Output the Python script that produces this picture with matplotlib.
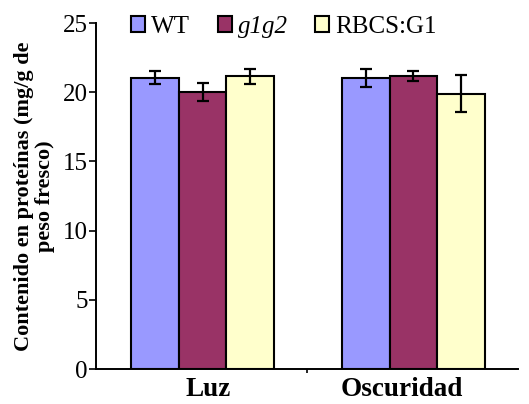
import matplotlib
matplotlib.use("Agg")
import matplotlib.pyplot as plt
import matplotlib.transforms as mtransforms
import numpy as np
from matplotlib.patches import Patch

plt.rcParams['font.family'] = ['Liberation Serif', 'DejaVu Serif']

conditions = ["Luz", "Oscuridad"]
genotypes = ["WT", "g1g2", "RBCS:G1"]
means = {
    "WT": [21.05, 21.05],
    "g1g2": [20.0, 21.15],
    "RBCS:G1": [21.15, 19.9],
}
errors = {
    "WT": [0.46, 0.64],
    "g1g2": [0.64, 0.35],
    "RBCS:G1": [0.52, 1.36],
}
colors = {"WT": "#9999FF", "g1g2": "#993366", "RBCS:G1": "#FFFFCC"}

fig = plt.figure(figsize=(5.29, 4.04), dpi=100)
ax = fig.add_axes([0.1815, 0.0866, 0.7975, 0.8564])

x = np.arange(len(conditions))
width = 0.227
for i, g in enumerate(genotypes):
    pos = x + (i - 1) * width + 0.005
    ax.bar(pos, means[g], width, color=colors[g], edgecolor="black",
           linewidth=1.5, zorder=2)
    ax.errorbar(pos, means[g], yerr=errors[g], fmt="none", ecolor="black",
                elinewidth=1.6, capsize=4.5, capthick=1.6, zorder=3)

ax.set_xlim(-0.5, 1.5)
ax.set_ylim(0, 25)
ax.set_yticks([0, 5, 10, 15, 20, 25])
ax.tick_params(axis="y", direction="out", length=5, width=1.2, labelsize=18, pad=1)
ax.set_xticks([0.5])
ax.set_xticklabels([""])
ax.tick_params(axis="x", direction="out", length=3, width=1.2)

# category names sit just below the axis, centred under each group
label_trans = mtransforms.blended_transform_factory(ax.transData, fig.transFigure)
for xc, dx, name in zip(x, [0.03, -0.05], conditions):
    ax.text(xc + dx, 14 / 404, name, transform=label_trans,
            ha="center", va="center", fontsize=19.5, fontweight="bold")

for side in ("top", "right"):
    ax.spines[side].set_visible(False)
for side in ("left", "bottom"):
    ax.spines[side].set_linewidth(1.4)

ax.set_ylabel("Contenido en proteínas (mg/g de\npeso fresco)", fontsize=16,
              fontweight="bold", linespacing=1.05)
ax.yaxis.set_label_coords(-0.097, 0.5)

handles = [Patch(facecolor=colors[g], edgecolor="black", linewidth=1.5) for g in genotypes]
leg = fig.legend(handles, genotypes, loc="upper left", bbox_to_anchor=(0.22, 0.998),
                 ncol=3, frameon=False, fontsize=18, handlelength=0.56,
                 handleheight=0.56, handletextpad=0.24, columnspacing=1.1,
                 borderaxespad=0.2)
leg.get_texts()[1].set_fontstyle("italic")

fig.savefig("out.png", dpi=100)
